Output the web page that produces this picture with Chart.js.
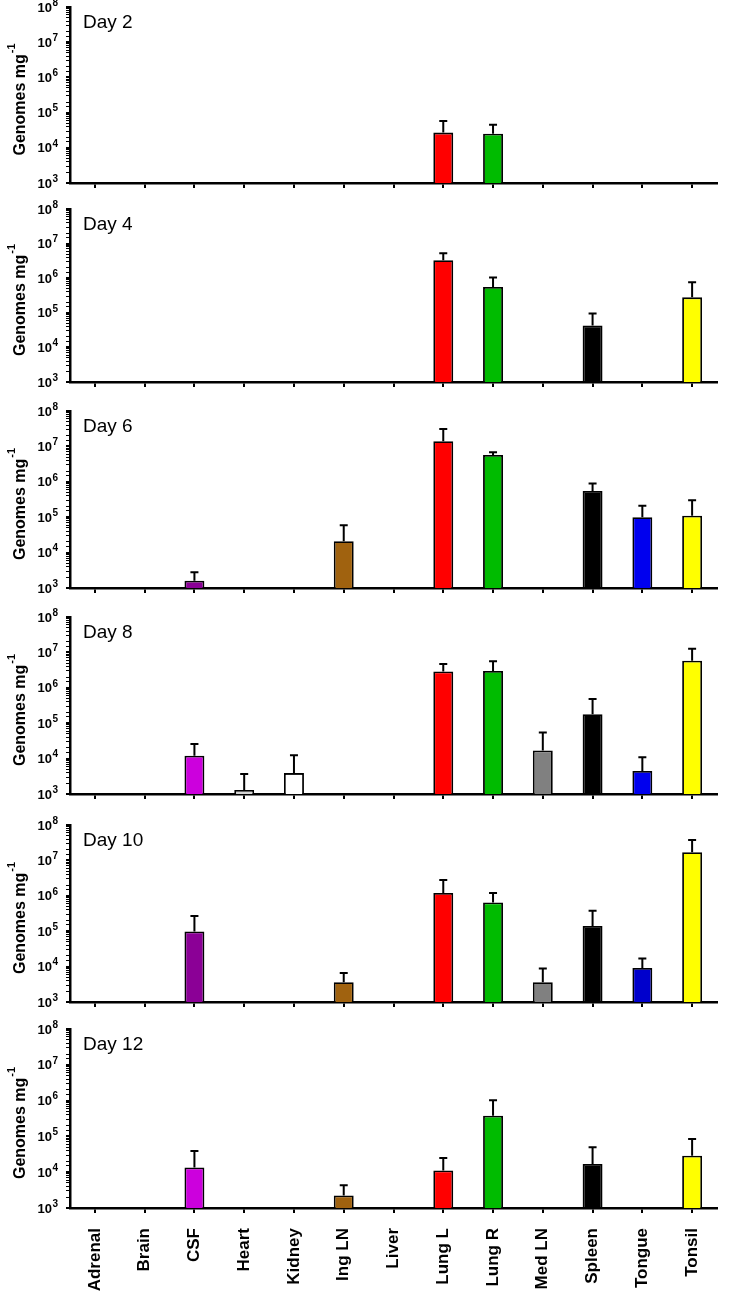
<!DOCTYPE html>
<html>
<head>
<meta charset="utf-8">
<script src="https://cdn.jsdelivr.net/npm/chart.js@4.4.1/dist/chart.umd.min.js"></script>
<style>
  body { margin: 0; background: #fff; }
  canvas { display: block; }
</style>
</head>
<body>
<canvas id="day2" width="729" height="197"></canvas>
<canvas id="day4" width="729" height="200"></canvas>
<canvas id="day6" width="729" height="206"></canvas>
<canvas id="day8" width="729" height="206"></canvas>
<canvas id="day10" width="729" height="207"></canvas>
<canvas id="day12" width="729" height="278"></canvas>
<script>
// Tissues along the x axis
const tissues = ['Adrenal', 'Brain', 'CSF', 'Heart', 'Kidney', 'Ing LN', 'Liver',
                 'Lung L', 'Lung R', 'Med LN', 'Spleen', 'Tongue', 'Tonsil'];
const decades = [3, 4, 5, 6, 7, 8];

// mean genomes per mg, and top of the error bar (null = nothing detected)
const day2Mean  = [null, null, null, null, null, null, null, 2.7e4, 2.5e4, null, null, null, null];
const day2Err   = [null, null, null, null, null, null, null, 5.8e4, 4.5e4, null, null, null, null];
const day4Mean  = [null, null, null, null, null, null, null, 3.3e6, 5.6e5, null, 4.3e4, null, 2.8e5];
const day4Err   = [null, null, null, null, null, null, null, 5.3e6, 1.05e6, null, 9.5e4, null, 7.6e5];
const day6Mean  = [null, null, 1.6e3, null, null, 2.1e4, null, 1.4e7, 5.7e6, null, 5.5e5, 1.0e5, 1.1e5];
const day6Err   = [null, null, 2.8e3, null, null, 5.9e4, null, 3.1e7, 6.8e6, null, 8.9e5, 2.1e5, 3.0e5];
const day8Mean  = [null, null, 1.2e4, 1.3e3, 3.9e3, null, null, 2.9e6, 3.0e6, 1.7e4, 1.8e5, 4.5e3, 5.8e6];
const day8Err   = [null, null, 2.6e4, 3.7e3, 1.25e4, null, null, 4.7e6, 5.6e6, 5.5e4, 4.8e5, 1.1e4, 1.26e7];
const day10Mean = [null, null, 9.8e4, null, null, 3.6e3, null, 1.2e6, 6.5e5, 3.6e3, 1.4e5, 9.2e3, 1.7e7];
const day10Err  = [null, null, 2.7e5, null, null, 6.6e3, null, 2.8e6, 1.2e6, 8.8e3, 3.8e5, 1.7e4, 3.8e7];
const day12Mean = [null, null, 1.36e4, null, null, 2.25e3, null, 1.12e4, 3.8e5, null, 1.7e4, null, 2.9e4];
const day12Err  = [null, null, 3.9e4, null, null, 4.3e3, null, 2.5e4, 1.03e6, null, 5.0e4, null, 8.4e4];

// bar fills
const baseColors = ['#ffffff', '#ffffff', '#cc00dd', '#d4d4d4', '#ffffff', '#a0620f', '#ffffff',
                    '#ff0000', '#00bb00', '#808080', '#000000', '#0000ee', '#ffff00'];
const darkCsf = '#8b0096';

const FONT = '"Liberation Sans", Arial, sans-serif';

// error bars, tick labels, axis title and day label
const panelDecor = {
  id: 'panelDecor',
  afterDatasetsDraw(chart, args, opts) {
    const ctx = chart.ctx, xs = chart.scales.x, ys = chart.scales.y;
    const means = chart.data.datasets[0].data;
    ctx.save();
    ctx.strokeStyle = '#000';
    ctx.lineWidth = 2;
    opts.err.forEach((e, i) => {
      if (e == null || means[i] == null) return;
      const cx = xs.getPixelForValue(i);
      const y0 = ys.getPixelForValue(means[i]);
      const y1 = ys.getPixelForValue(e);
      ctx.beginPath();
      ctx.moveTo(cx, y0);
      ctx.lineTo(cx, y1);
      ctx.moveTo(cx - 4, y1);
      ctx.lineTo(cx + 4, y1);
      ctx.stroke();
    });
    ctx.restore();
  },
  afterDraw(chart, args, opts) {
    const ctx = chart.ctx, ys = chart.scales.y, area = chart.chartArea;
    ctx.save();
    ctx.fillStyle = '#000';
    // 10^n tick labels
    decades.forEach(e => {
      const py = ys.getPixelForValue(Math.pow(10, e));
      ctx.textAlign = 'right';
      ctx.textBaseline = 'middle';
      ctx.font = 'bold 10px ' + FONT;
      const ew = ctx.measureText(String(e)).width;
      ctx.fillText(String(e), 58, py - 4);
      ctx.font = 'bold 13px ' + FONT;
      ctx.fillText('10', 58 - ew - 0.5, py + 1);
    });
    // y axis title
    ctx.translate(19, (area.top + area.bottom) / 2 + 5);
    ctx.rotate(-Math.PI / 2);
    ctx.textAlign = 'left';
    ctx.textBaseline = 'alphabetic';
    ctx.font = 'bold 16px ' + FONT;
    const t1 = 'Genomes mg';
    const w1 = ctx.measureText(t1).width;
    ctx.font = 'bold 11px ' + FONT;
    const w2 = ctx.measureText('-1').width;
    const start = -(w1 + w2) / 2;
    ctx.font = 'bold 16px ' + FONT;
    ctx.fillText(t1, start, 6);
    ctx.font = 'bold 11px ' + FONT;
    ctx.fillText('-1', start + w1 + 1, -4);
    ctx.restore();
    // day label
    ctx.save();
    ctx.fillStyle = '#000';
    ctx.font = '19px ' + FONT;
    ctx.textAlign = 'left';
    ctx.textBaseline = 'alphabetic';
    ctx.fillText(opts.label, area.left + 13, area.top + 21);
    ctx.restore();
  }
};

function makePanel(id, label, means, errs, csfColor, tongueColor, padTop, axisBelow, bottom) {
  const colors = baseColors.slice();
  colors[2] = csfColor;
  colors[11] = tongueColor;
  new Chart(document.getElementById(id), {
    type: 'bar',
    data: {
      labels: tissues,
      datasets: [{
        data: means,
        backgroundColor: colors,
        borderColor: '#000',
        borderWidth: 1.8,
        barPercentage: 0.4,
        categoryPercentage: 1
      }]
    },
    options: {
      responsive: false,
      animation: false,
      layout: { padding: { top: padTop, right: 12, left: 0, bottom: 0 } },
      plugins: {
        legend: { display: false },
        tooltip: { enabled: false },
        panelDecor: { label: label, err: errs }
      },
      scales: {
        x: {
          offset: true,
          grid: { drawOnChartArea: false, offset: false, tickLength: 5, color: '#000', lineWidth: 2 },
          border: { color: '#000', width: 2.5 },
          ticks: {
            display: bottom,
            autoSkip: false,
            minRotation: 90,
            maxRotation: 90,
            padding: 15,
            color: '#000',
            font: { family: FONT, size: 17, weight: 'bold' }
          },
          afterFit: s => { s.height = axisBelow; }
        },
        y: {
          type: 'logarithmic',
          min: 1e3,
          max: 1e8,
          grid: {
            drawOnChartArea: false,
            tickLength: 4,
            color: '#000',
            lineWidth: c => {
              const v = c.tick ? c.tick.value : 0;
              return Math.abs(Math.log10(v) - Math.round(Math.log10(v))) < 1e-6 ? 2 : 1;
            }
          },
          border: { color: '#000', width: 2.5 },
          ticks: { display: false, autoSkip: false },
          afterFit: s => { s.width = 70; }
        }
      }
    },
    plugins: [panelDecor]
  });
}

makePanel('day2', 'Day 2', day2Mean, day2Err, '#cc00dd', '#0000ee', 7, 14, false);
makePanel('day4', 'Day 4', day4Mean, day4Err, '#cc00dd', '#0000ee', 12, 15, false);
makePanel('day6', 'Day 6', day6Mean, day6Err, darkCsf, '#0000ee', 14, 15, false);
makePanel('day8', 'Day 8', day8Mean, day8Err, '#cc00dd', '#0000ee', 14, 15, false);
makePanel('day10', 'Day 10', day10Mean, day10Err, darkCsf, '#0000cc', 16, 14, false);
makePanel('day12', 'Day 12', day12Mean, day12Err, '#cc00dd', '#0000ee', 13, 86, true);
</script>
</body>
</html>
